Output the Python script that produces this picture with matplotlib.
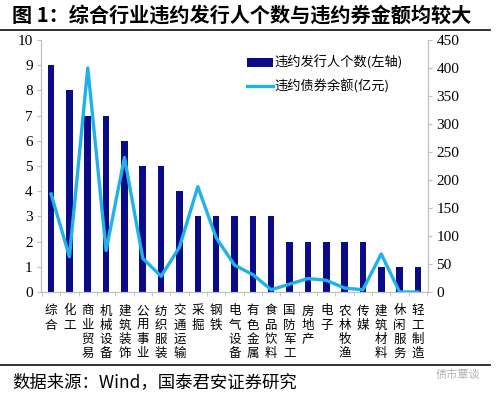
import matplotlib.pyplot as plt
import numpy as np

plt.rcParams["font.family"] = ["Noto Sans CJK SC", "DejaVu Sans"]

# industries (SW level-1), defaulted issuers and defaulted bond balance
industries = ["综合", "化工", "商业贸易", "机械设备", "建筑装饰", "公用事业", "纺织服装",
              "交通运输", "采掘", "钢铁", "电气设备", "有色金属", "食品饮料", "国防军工",
              "房地产", "电子", "农林牧渔", "传媒", "建筑材料", "休闲服务", "轻工制造"]
issuers = [9, 8, 7, 7, 6, 5, 5, 4, 3, 3, 3, 3, 3, 2, 2, 2, 2, 2, 1, 1, 1]
balance = [175, 63, 400, 74, 240, 60, 28, 80, 188, 97, 48, 31, 4, 14, 24, 21, 7, 4, 68, 0, 0]

BAR_COLOR = "#0B0B8A"
LINE_COLOR = "#1FB2E8"
SPINE_COLOR = "#BFBFBF"

fig = plt.figure(figsize=(5.0, 3.97), dpi=100)
ax = fig.add_axes([0.082, 0.2645, 0.774, 0.635])
ax2 = ax.twinx()

x = np.arange(len(industries))
ax.bar(x, issuers, width=0.36, color=BAR_COLOR, zorder=2, label="违约发行人个数(左轴)")
ax2.plot(x, balance, color=LINE_COLOR, lw=2.4, zorder=3, label="违约债券余额(亿元)")

ax.set_xlim(-0.55, len(industries) - 0.45)
ax.set_ylim(0, 10)
ax2.set_ylim(0, 450)
ax.set_yticks(range(0, 11))
ax2.set_yticks(range(0, 451, 50))
for a in (ax, ax2):
    for s in a.spines.values():
        s.set_color(SPINE_COLOR)
    a.spines["top"].set_visible(False)
    a.tick_params(axis="y", length=3, color=SPINE_COLOR, labelsize=11, pad=3,
                  labelfontfamily="Liberation Serif")

ax.set_xticks(x)
ax.set_xticklabels(["\n".join(name) for name in industries], fontsize=9,
                   linespacing=1.12, va="top")
ax.set_xticks(np.arange(-0.5, len(industries), 1), minor=True)
ax.tick_params(axis="x", which="major", length=0, pad=9)
ax.tick_params(axis="x", which="minor", length=3, color=SPINE_COLOR)

h1, l1 = ax.get_legend_handles_labels()
h2, l2 = ax2.get_legend_handles_labels()
ax2.legend(h1 + h2, l1 + l2, loc="upper right", bbox_to_anchor=(0.965, 0.985),
           frameon=False, fontsize=9.5, handlelength=2.0, handletextpad=0.1,
           labelspacing=0.7)

# title band and source note
fig.text(0.024, 0.962, "图 1：综合行业违约发行人个数与违约券金额均较大",
         fontsize=14.5, fontweight="bold", va="center", ha="left")
fig.add_artist(plt.Line2D([0, 0.98], [0.925, 0.925], color="#222222", lw=1.3))
fig.add_artist(plt.Line2D([0, 0.98], [0.081, 0.081], color="#222222", lw=1.3))
fig.text(0.024, 0.037, "数据来源：Wind，国泰君安证券研究", fontsize=12.5,
         va="center", ha="left")
fig.text(0.96, 0.055, "债市覃谈", fontsize=8, color="#B0B0B0", va="center", ha="right")

fig.savefig("out.png", dpi=100, facecolor="white")
